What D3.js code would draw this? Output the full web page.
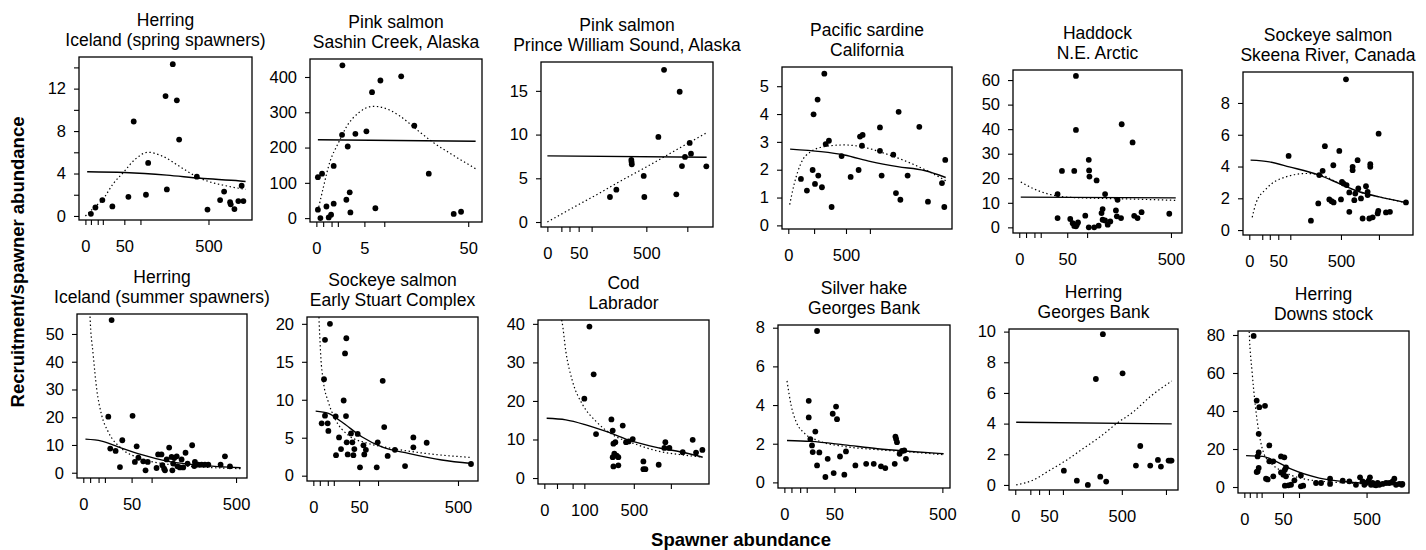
<!DOCTYPE html>
<html><head><meta charset="utf-8">
<script src="https://cdn.jsdelivr.net/npm/d3@7"></script>
<style>
body{margin:0;background:#fff}
text{font-family:"Liberation Sans",Arial,Helvetica,sans-serif;fill:#000}
</style>
</head><body>
<svg id="chart" width="1426" height="550"></svg>
<script>
// ---------- DATA ----------
const titleLine1 = ["Herring","Pink salmon","Pink salmon","Pacific sardine","Haddock","Sockeye salmon",
  "Herring","Sockeye salmon","Cod","Silver hake","Herring","Herring"];
const titleLine2 = ["Iceland (spring spawners)","Sashin Creek, Alaska","Prince William Sound, Alaska","California","N.E. Arctic","Skeena River, Canada",
  "Iceland (summer spawners)","Early Stuart Complex","Labrador","Georges Bank","Georges Bank","Downs stock"];

const xMax = [847, 55, 1295, 3722, 532, 1474, 531, 599, 1566, 508, 1078, 839];
const yDomains = [[-0.38,14.98],[-11,451],[-0.57,18.3],[-0.13,5.69],[-2.3,64.1],[-0.31,9.95],
  [-1.9,57.2],[-0.7,20.9],[-1.55,41.0],[-0.29,8.14],[-0.33,10.17],[-3.15,82.1]];

const xLabels = [[0,50,500],[0,5,50],[0,50,500],[0,500],[0,50,500],[0,50,500],
  [0,50,500],[0,50,500],[0,100,500],[0,50,500],[0,50,500],[0,50,500]];
const xMinor = [[1,5,10,100],[0.1,0.5,1,10],[10,25,100,1000],[100,1000],[1,5,10,100],[10,25,100,1000],
  [1,5,10,100],[1,5,10,100],[10,50,1000],[1,5,10,100],[10,25,100,1000],[1,5,10,100]];
const yTicks = [[0,2,4,6,8,10,12,14],[0,100,200,300,400],[0,5,10,15],[0,1,2,3,4,5],[0,10,20,30,40,50,60],[0,2,4,6,8],
  [0,10,20,30,40,50],[0,5,10,15,20],[0,10,20,30,40],[0,2,4,6,8],[0,2,4,6,8,10],[0,20,40,60,80]];
const yLabels = [[0,4,8,12],[0,100,200,300,400],[0,5,10,15],[0,1,2,3,4,5],[0,10,20,30,40,50,60],[0,2,4,6,8],
  [0,10,20,30,40,50],[0,5,10,15,20],[0,10,20,30,40],[0,2,4,6,8],[0,2,4,6,8,10],[0,20,40,60,80]];

const p1Points = [[1,0.2],[3.3,0.8],[9.5,1.5],[24,0.9],[61,1.8],[77,8.9],[121,2.0],[130,5.0],[219,2.5],[212,11.3],[252,14.3],[276,10.9],[290,7.2],[410,3.7],[492,0.6],[599,1.5],[635,2.3],[691,1.3],[697,1.1],[733,0.65],[772,1.4],[806,2.85],[824,1.4]];
const p1Solid = [[0.1,4.17],[50,4.1],[219,3.85],[435,3.55],[789,3.3],[847,3.25]];
const p1Dotted = [[0,0],[3.3,0.9],[9.5,1.5],[25,3.0],[50,4.2],[80,5.3],[130,6.0],[200,5.6],[300,4.6],[400,3.75],[500,3.25],[650,2.85],[847,2.5]];

const p2Points = [[0.005,24],[0.005,116],[0.07,126],[0.035,0],[0.22,33],[0.33,2],[0.47,9.5],[0.65,41],[0.65,148],[1.43,236],[1.95,52],[2.13,203],[2.41,73],[2.51,16],[1.47,433],[3.3,239],[5.43,246],[6.72,357],[7.55,28],[8.89,390],[15.6,402],[20.8,262],[27.4,126],[40.9,12],[45.4,18]];
const p2Solid = [[0.005,222],[55,218]];
const p2Dotted = [[0.005,20],[0.1,85],[0.4,160],[1,210],[2,260],[4,300],[7,317],[10,312],[15,290],[22,250],[30,213],[40,180],[55,140]];

const p3Points = [[200,2.86],[243,3.7],[360,7.1],[362,6.85],[364,6.6],[474,5.27],[480,2.86],[629,9.73],[695,17.4],[849,3.17],[894,14.9],[925,6.4],[967,7.44],[1034,9.05],[1053,7.82],[1290,6.37]];
const p3Solid = [[0,7.56],[1295,7.4]];
const p3Dotted = [[0,0],[10,0.9],[50,2.0],[164,3.6],[200,4.0],[500,6.3],[900,8.5],[1295,10.2]];

const p4Points = [[24,1.67],[52,1.25],[89,1.99],[96,3.99],[107,1.49],[129,4.52],[135,1.79],[170,1.37],[195,5.45],[210,2.92],[248,3.04],[282,0.66],[427,2.49],[584,1.74],[743,1.99],[773,3.19],[830,3.25],[815,2.86],[1262,3.52],[1262,2.68],[1309,1.79],[1656,2.54],[1741,1.16],[1829,4.08],[1887,0.92],[2139,1.79],[2578,3.54],[2930,0.85],[3547,1.52],[3656,0.66],[3700,2.35]];
const p4Solid = [[0.5,2.74],[160,2.65],[470,2.53],[1027,2.29],[1795,2.11],[2780,1.97],[3722,1.72]];
const p4Dotted = [[0.3,0.75],[5.4,1.5],[24,2.23],[77,2.65],[195,2.83],[470,2.89],[793,2.83],[1384,2.59],[2260,2.23],[3656,1.63],[3722,1.6]];

const p5Points = [[31.9,13.55],[31.9,3.8],[39.6,23],[56.5,3.4],[65.7,23],[69.8,39.7],[69.8,61.7],[62,1.7],[65.7,0.6],[69.8,0.4],[72,1.1],[75,2.0],[94.7,4.74],[105,27.5],[106,23.2],[107,20.7],[105,0],[122,0],[130,19.1],[137,0.7],[147,5.8],[151,7.45],[151,3.1],[160,13.55],[160,2.8],[170,1.1],[180,2.4],[203,6.9],[210,11.2],[207,4.5],[225,3.8],[228,42],[279,34.6],[287,4.7],[304,3.8],[325,6.2],[489,5.55]];
const p5Solid = [[0.05,12.3],[532,12.0]];
const p5Dotted = [[0.05,18.5],[4.9,15.6],[21.8,13.3],[50.8,12.3],[145,11.8],[287,11.5],[532,11.0]];

const p6Points = [[92,4.67],[226,0.59],[283,1.68],[291,3.46],[320,3.73],[340,5.28],[381,1.93],[403,1.82],[423,1.74],[420,4.08],[482,4.98],[500,1.93],[511,3.04],[529,2.93],[556,9.49],[563,2.83],[595,2.37],[595,1.15],[635,3.98],[635,3.77],[656,1.88],[668,2.3],[698,4.4],[707,2.62],[742,1.99],[764,0.73],[810,2.76],[833,2.41],[833,2.2],[857,0.73],[871,4.15],[871,3.98],[905,0.8],[980,1.05],[990,1.21],[995,6.07],[1111,1.11],[1177,1.15],[1460,1.74]];
const p6Solid = [[0.1,4.4],[24,4.29],[95,3.98],[291,3.46],[482,2.93],[720,2.41],[1005,2.09],[1474,1.72]];
const p6Dotted = [[0.5,0.8],[2.6,1.68],[16.5,2.58],[80,3.35],[191,3.56],[291,3.5],[482,2.93],[720,2.41],[1005,2.09],[1474,1.72]];

const p7Points = [[13.4,20.2],[17.2,55],[15.6,8.7],[22.4,7.85],[28.8,2.05],[32.6,11.7],[52,20.5],[61,9.5],[57,3.9],[65,5.4],[77,4.1],[83,0.85],[89,3.9],[115,1.7],[120,6.6],[131,6.6],[134,2.7],[140,1.45],[143,0.85],[149,4.8],[158,9.06],[167,5.7],[170,0.85],[173,3.3],[177,5.3],[187,5.9],[190,2.3],[200,1.9],[207,4.8],[214,1.9],[224,7.2],[233,3.3],[254,9.9],[264,2.4],[267,3.9],[283,2.9],[300,2.9],[317,2.9],[335,2.9],[404,2.9],[430,5.9],[461,2.3]];
const p7Solid = [[0.1,12.1],[7.2,11.4],[26,9.3],[73,6.5],[155,4.1],[300,2.66],[531,1.8]];
const p7Dotted = [[0.8,65],[0.95,57],[2.1,42.5],[3.8,30.4],[7.2,20.8],[13.4,14.7],[31.5,8.7],[73,5.07],[155,3.0],[300,2.05],[531,1.45]];

const p8Points = [[1.66,6.9],[2.72,12.7],[3.25,17.9],[3.25,7.9],[4.9,6.9],[5.4,5.9],[6.6,20],[11.9,7.8],[12.3,2.7],[15.8,5.04],[18.3,3.5],[22,9.9],[24,16.1],[26,18.1],[25.5,7.85],[26.6,4.39],[28.2,2.8],[33.9,5.57],[36.4,4.39],[38.3,2.7],[40.2,3.5],[47,5.5],[52,1.1],[60,4.0],[62,2.8],[66,3.4],[96,1.1],[99,4.4],[115,12.5],[120,6.4],[132,2.6],[159,3.4],[201,1.27],[239,5.04],[239,3.73],[307,4.34],[594,1.54]];
const p8Solid = [[0.13,8.5],[5.4,8.2],[19,7.1],[56,5.13],[112,3.8],[216,2.94],[394,2.06],[599,1.6]];
const p8Dotted = [[0.6,23],[0.77,20.7],[1.29,15.9],[2.4,12.4],[5.4,9.7],[11.2,7.5],[29,5.35],[72,4.25],[147,3.6],[298,2.94],[599,2.4]];

const p9Points = [[100,20.6],[127,39.3],[152,26.9],[167,11.4],[281,15.2],[292,12.3],[292,5.4],[298,8.9],[315,9.3],[306,6.3],[298,3.0],[327,5.8],[342,3.3],[342,5.4],[384,13.6],[417,9.3],[444,9.5],[488,10.1],[613,4.3],[613,2.3],[638,2.3],[817,3.45],[900,7.8],[915,9.3],[977,7.8],[1196,6.7],[1375,9.9],[1438,6.6],[1560,7.3]];
const p9Solid = [[0.34,15.5],[29,15.1],[108,13.8],[238,12.1],[488,9.5],[827,7.8],[1254,6.5],[1566,5.4]];
const p9Dotted = [[17,42],[19.5,40.6],[29,32.8],[50,25],[92,19],[167,14.7],[292,11.2],[488,9.07],[827,6.9],[1254,5.9],[1566,5.4]];

const p10Points = [[11.9,4.22],[11.9,3.36],[13.5,2.24],[15.3,1.91],[16.1,1.57],[19.2,2.63],[21.4,7.83],[21.4,0.88],[24.5,1.55],[33.7,0.28],[37.6,1.22],[46.8,3.55],[48.7,0.48],[53.5,3.92],[55.5,3.27],[62,1.34],[72,0.4],[76,1.6],[101,0.88],[134,0.96],[160,0.96],[187,0.83],[204,0.74],[244,0.96],[247,2.37],[250,2.25],[254,2.08],[266,1.48],[277,1.63],[288,1.65],[296,1.22]];
const p10Solid = [[0.14,2.17],[14,2.12],[72,1.94],[174,1.74],[321,1.6],[508,1.48]];
const p10Dotted = [[0.14,5.25],[0.9,4.0],[2.7,3.15],[8,2.55],[22,2.17],[72,1.86],[174,1.69],[321,1.57],[508,1.43]];

const p11Points = [[104,0.93],[167,0.28],[232,0],[286,6.91],[318,0.54],[338,9.83],[364,0.22],[507,7.28],[641,1.26],[688,2.54],[802,1.26],[896,1.63],[934,1.2],[1035,1.59],[1058,1.59],[1075,1.59]];
const p11Solid = [[0.04,4.09],[1078,3.98]];
const p11Dotted = [[0.04,0],[14.8,0.33],[54,0.98],[117,1.63],[205,2.39],[318,3.15],[455,4.02],[616,4.78],[802,5.76],[1078,6.78]];

const p12Points = [[2.9,79.5],[5.1,45.5],[7.5,42],[14.3,42.7],[6.9,28],[6.9,18.2],[5.9,16.1],[5.9,8.2],[5.1,7.9],[6.9,10],[15.7,4.4],[18.2,4.0],[20.9,21.9],[20.9,13.5],[28,13.5],[28,5.6],[45,16.1],[53.5,15.6],[45,7.7],[51,6.5],[55,9.1],[58,10.3],[58,5.6],[55,0.7],[65,0.9],[73,1.2],[84,3.5],[107,6.1],[107,0.35],[116,0.7],[172,2.1],[197,2.1],[246,4.4],[246,1.6],[324,3.3],[369,3.0],[417,1.2],[448,5.1],[468,3.0],[482,1.2],[495,2.1],[517,3.3],[528,5.1],[537,1.2],[551,2.1],[565,1.2],[580,0.9],[595,2.1],[610,1.2],[640,1.6],[672,2.1],[703,2.1],[736,3.0],[753,4.4],[770,1.2],[804,1.6],[830,1.2],[836,1.6]];
const p12Solid = [[0.1,16.5],[11,16.1],[33.5,13.5],[78,9.1],[188,4.7],[393,2.45],[672,1.6],[839,1.25]];
const p12Dotted = [[0.7,86],[0.84,80],[2,60.8],[4,43],[7.5,27.5],[13.4,17],[26.9,11.7],[58,7.4],[114,4.4],[281,2.45],[523,1.6],[839,0.95]];

const allPoints = [p1Points,p2Points,p3Points,p4Points,p5Points,p6Points,p7Points,p8Points,p9Points,p10Points,p11Points,p12Points];
const allSolid = [p1Solid,p2Solid,p3Solid,p4Solid,p5Solid,p6Solid,p7Solid,p8Solid,p9Solid,p10Solid,p11Solid,p12Solid];
const allDotted = [p1Dotted,p2Dotted,p3Dotted,p4Dotted,p5Dotted,p6Dotted,p7Dotted,p8Dotted,p9Dotted,p10Dotted,p11Dotted,p12Dotted];

const xTitle = "Spawner abundance";
const yTitle = "Recruitment/spawner abundance";

// ---------- LAYOUT (panel boxes: left, top, right, bottom) ----------
const boxes = [[79,57,252,220],[310,59,482,222],[541,62,713,227],[782,67,952,229],[1013,70,1182,233],[1243,72,1413,235],
  [77,314,247,478],[307,317,478,481],[538,320,709,484],[778,325,950,488],[1009,329,1178,490],[1238,331,1409,493]];

// ---------- DRAW ----------
const svg = d3.select("#chart");
const defs = svg.append("defs");

boxes.forEach((bx, i) => {
  const [l, t, r, b] = bx;
  const pad = (r - l) * 0.04 / 1.08;
  const x = d3.scaleSqrt().domain([0, xMax[i]]).range([l + pad, r - pad]);
  const y = d3.scaleLinear().domain(yDomains[i]).range([b, t]);
  const g = svg.append("g").attr("class", "panel");

  defs.append("clipPath").attr("id", "clip" + i)
    .append("rect").attr("x", l).attr("y", t).attr("width", r - l).attr("height", b - t);

  g.append("text").attr("x", (l + r) / 2).attr("y", t - 31).attr("text-anchor", "middle")
    .style("font-size", "17.5px").text(titleLine1[i]);
  g.append("text").attr("x", (l + r) / 2).attr("y", t - 11).attr("text-anchor", "middle")
    .style("font-size", "17.5px").text(titleLine2[i]);

  const yl = yLabels[i];
  const ya = g.append("g").attr("transform", `translate(${l},0)`)
    .call(d3.axisLeft(y).tickValues(yTicks[i]).tickSize(5).tickPadding(8)
      .tickFormat(d => yl.includes(d) ? String(d) : ""));
  ya.select(".domain").remove();
  ya.selectAll("text").style("font-size", "16.5px").attr("font-family", null);
  ya.selectAll("line").attr("stroke", "#000").attr("stroke-width", 1.1);

  const xl = xLabels[i];
  const xt = xl.concat(xMinor[i].filter(v => v <= xMax[i])).sort((a, c) => a - c);
  const xa = g.append("g").attr("transform", `translate(0,${b})`)
    .call(d3.axisBottom(x).tickValues(xt).tickSize(5).tickPadding(15)
      .tickFormat(d => xl.includes(d) ? String(d) : ""));
  xa.select(".domain").remove();
  xa.selectAll("text").style("font-size", "16.5px").attr("font-family", null);
  xa.selectAll("line").attr("stroke", "#000").attr("stroke-width", 1.1);

  g.append("rect").attr("x", l).attr("y", t).attr("width", r - l).attr("height", b - t)
    .attr("fill", "none").attr("stroke", "#000").attr("stroke-width", 1.3);

  const line = d3.line().x(d => x(d[0])).y(d => y(d[1])).curve(d3.curveMonotoneX);
  const lg = g.append("g").attr("clip-path", `url(#clip${i})`);
  lg.append("path").datum(allDotted[i]).attr("d", line)
    .attr("fill", "none").attr("stroke", "#000").attr("stroke-width", 1.2)
    .attr("stroke-dasharray", "1.4 2.6");
  lg.append("path").datum(allSolid[i]).attr("d", line)
    .attr("fill", "none").attr("stroke", "#000").attr("stroke-width", 1.4);

  g.append("g").selectAll("circle").data(allPoints[i]).join("circle")
    .attr("cx", d => x(d[0])).attr("cy", d => y(d[1])).attr("r", 2.9).attr("fill", "#000");
});

svg.append("text").attr("x", 741).attr("y", 546).attr("text-anchor", "middle")
  .style("font-size", "18.5px").style("font-weight", "bold").text(xTitle);
svg.append("text").attr("transform", "translate(24,262) rotate(-90)").attr("text-anchor", "middle")
  .style("font-size", "18.5px").style("font-weight", "bold").text(yTitle);
</script>
</body></html>
